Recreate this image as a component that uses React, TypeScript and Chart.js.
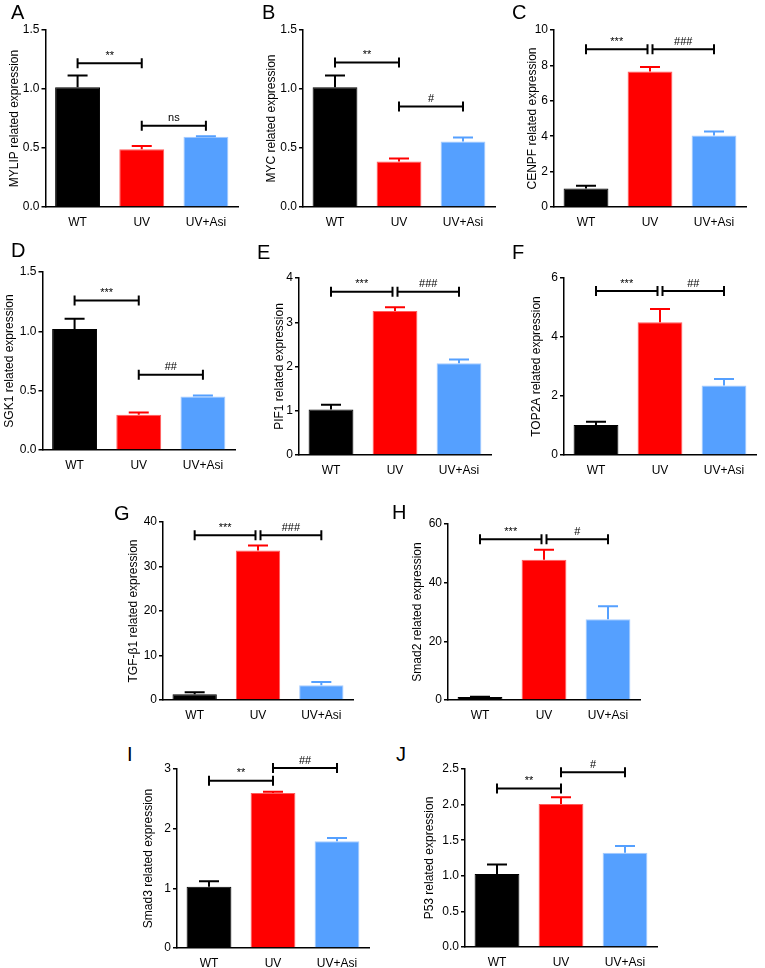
import React, { useEffect, useRef } from 'react';
import { Chart, registerables } from 'chart.js';

Chart.register(...registerables);

// ---------- data ----------
const categories = ['WT', 'UV', 'UV+Asi'];
const barColors = ['#000000', '#ff0000', '#55a0ff'];
const barEdges = ['#000000', '#ff5c5c', '#a6ccff'];

// A: MYLIP
const mylipMean = [1.015, 0.49, 0.595];
const mylipSem = [0.1, 0.027, 0.005];
const mylipSig = [[0, 1, 1.218, '**'], [1, 2, 0.688, 'ns']];
// B: MYC
const mycMean = [1.015, 0.386, 0.555];
const mycSem = [0.1, 0.025, 0.035];
const mycSig = [[0, 1, 1.224, '**'], [1, 2, 0.851, '#']];
// C: CENPF
const cenpfMean = [1.05, 7.65, 4.04];
const cenpfSem = [0.15, 0.26, 0.23];
const cenpfSig = [[0, 1, 8.91, '***'], [1, 2, 8.91, '###']];
// D: SGK1
const sgk1Mean = [1.02, 0.296, 0.451];
const sgk1Sem = [0.087, 0.02, 0.009];
const sgk1Sig = [[0, 1, 1.26, '***'], [1, 2, 0.634, '##']];
// E: PIF1
const pif1Mean = [1.03, 3.256, 2.075];
const pif1Sem = [0.105, 0.085, 0.085];
const pif1Sig = [[0, 1, 3.69, '***'], [1, 2, 3.69, '###']];
// F: TOP2A
const top2aMean = [1.02, 4.5, 2.36];
const top2aSem = [0.11, 0.45, 0.22];
const top2aSig = [[0, 1, 5.56, '***'], [1, 2, 5.56, '##']];
// G: TGF-β1
const tgfMean = [1.27, 33.6, 3.3];
const tgfSem = [0.45, 1.1, 0.75];
const tgfSig = [[0, 1, 37.0, '***'], [1, 2, 37.0, '###']];
// H: Smad2
const smad2Mean = [1.0, 47.8, 27.5];
const smad2Sem = [0.1, 3.45, 4.5];
const smad2Sig = [[0, 1, 54.8, '***'], [1, 2, 54.8, '#']];
// I: Smad3
const smad3Mean = [1.026, 2.597, 1.79];
const smad3Sem = [0.094, 0.023, 0.055];
const smad3Sig = [[0, 1, 2.804, '**'], [1, 2, 3.017, '##']];
// J: P53
const p53Mean = [1.026, 2.01, 1.323];
const p53Sem = [0.134, 0.094, 0.097];
const p53Sig = [[0, 1, 2.227, '**'], [1, 2, 2.453, '#']];

// ---------- layout ----------
const FONT = "'Liberation Sans', Arial, Helvetica, sans-serif";
const PT = 20;
const PR = 5;
const XH = 25;

type PanelDef = {
  letter: string; lx: number; ly: number;
  title: string; mean: number[]; sem: number[]; sig: any[];
  max: number; step: number; dec: number;
  axisX: number; right: number; top: number; bottom: number; titleX: number;
};

const panels: PanelDef[] = [
  { letter: 'A', lx: 12, ly: 5, title: 'MYLIP related expression', mean: mylipMean, sem: mylipSem, sig: mylipSig, max: 1.5, step: 0.5, dec: 1, axisX: 45, right: 237, top: 30, bottom: 207, titleX: 14.5 },
  { letter: 'B', lx: 263, ly: 5, title: 'MYC related expression', mean: mycMean, sem: mycSem, sig: mycSig, max: 1.5, step: 0.5, dec: 1, axisX: 303, right: 495, top: 30, bottom: 207, titleX: 272 },
  { letter: 'C', lx: 513, ly: 5, title: 'CENPF related expression', mean: cenpfMean, sem: cenpfSem, sig: cenpfSig, max: 10, step: 2, dec: 0, axisX: 554, right: 746, top: 30, bottom: 207, titleX: 533 },
  { letter: 'D', lx: 12, ly: 243, title: 'SGK1 related expression', mean: sgk1Mean, sem: sgk1Sem, sig: sgk1Sig, max: 1.5, step: 0.5, dec: 1, axisX: 42, right: 234, top: 272, bottom: 450, titleX: 9.5 },
  { letter: 'E', lx: 258, ly: 245, title: 'PIF1 related expression', mean: pif1Mean, sem: pif1Sem, sig: pif1Sig, max: 4, step: 1, dec: 0, axisX: 299, right: 491, top: 278, bottom: 455, titleX: 280 },
  { letter: 'F', lx: 513, ly: 245, title: 'TOP2A related expression', mean: top2aMean, sem: top2aSem, sig: top2aSig, max: 6, step: 2, dec: 0, axisX: 564, right: 756, top: 278, bottom: 455, titleX: 537 },
  { letter: 'G', lx: 115, ly: 506, title: 'TGF-β1 related expression', mean: tgfMean, sem: tgfSem, sig: tgfSig, max: 40, step: 10, dec: 0, axisX: 163, right: 353, top: 522, bottom: 700, titleX: 134 },
  { letter: 'H', lx: 393, ly: 505, title: 'Smad2 related expression', mean: smad2Mean, sem: smad2Sem, sig: smad2Sig, max: 60, step: 20, dec: 0, axisX: 448, right: 640, top: 524, bottom: 700, titleX: 418 },
  { letter: 'I', lx: 128, ly: 747, title: 'Smad3 related expression', mean: smad3Mean, sem: smad3Sem, sig: smad3Sig, max: 3, step: 1, dec: 0, axisX: 177, right: 369, top: 769, bottom: 948, titleX: 149 },
  { letter: 'J', lx: 397, ly: 747, title: 'P53 related expression', mean: p53Mean, sem: p53Sem, sig: p53Sig, max: 2.5, step: 0.5, dec: 1, axisX: 465, right: 657, top: 769, bottom: 947, titleX: 430 },
];

const annotPlugin = {
  id: 'annot',
  afterDatasetsDraw(chart: any, _args: any, opts: any) {
    const { ctx } = chart;
    const xs = chart.scales.x;
    const ys = chart.scales.y;
    const meta = chart.getDatasetMeta(0);
    const data = chart.data.datasets[0].data as number[];
    const sem: number[] = opts.sem;
    const sig: any[] = opts.sig;
    ctx.save();
    // error bars (upper only)
    meta.data.forEach((bar: any, i: number) => {
      const v = data[i];
      const yTop = ys.getPixelForValue(v + sem[i]);
      const yBar = ys.getPixelForValue(v);
      ctx.strokeStyle = barColors[i];
      ctx.lineWidth = 2;
      ctx.beginPath();
      ctx.moveTo(bar.x, yBar);
      ctx.lineTo(bar.x, yTop);
      ctx.moveTo(bar.x - 10, yTop);
      ctx.lineTo(bar.x + 10, yTop);
      ctx.stroke();
    });
    // significance brackets
    sig.forEach((br: any) => {
      const [a, b, val, label] = br;
      let xa = xs.getPixelForValue(a);
      let xb = xs.getPixelForValue(b);
      sig.forEach((o: any) => {
        if (o === br || o[2] !== val) return;
        if (o[0] === b) xb -= 2.5;
        if (o[1] === a) xa += 2.5;
      });
      const y = ys.getPixelForValue(val);
      ctx.strokeStyle = '#000';
      ctx.lineWidth = 2;
      ctx.beginPath();
      ctx.moveTo(xa, y);
      ctx.lineTo(xb, y);
      ctx.moveTo(xa, y - 5);
      ctx.lineTo(xa, y + 5);
      ctx.moveTo(xb, y - 5);
      ctx.lineTo(xb, y + 5);
      ctx.stroke();
      ctx.fillStyle = '#000';
      ctx.font = `11px ${FONT}`;
      ctx.textAlign = 'center';
      ctx.textBaseline = 'bottom';
      ctx.fillText(label, (xa + xb) / 2, y - 2);
    });
    ctx.restore();
  },
};

function Panel({ p }: { p: PanelDef }) {
  const ref = useRef<HTMLCanvasElement>(null);
  const canvasLeft = p.titleX - 8;
  const yw = p.axisX - canvasLeft;
  const width = Math.round(yw + (p.right - p.axisX) + PR);
  const height = Math.round(PT + (p.bottom - p.top) + XH);

  useEffect(() => {
    if (!ref.current) return;
    const chart = new Chart(ref.current, {
      type: 'bar',
      data: {
        labels: categories,
        datasets: [
          {
            data: p.mean,
            backgroundColor: barColors,
            borderColor: barEdges,
            borderWidth: 1,
            barPercentage: 0.7,
            categoryPercentage: 1.0,
          },
        ],
      },
      plugins: [annotPlugin as any],
      options: {
        responsive: false,
        animation: false,
        devicePixelRatio: 1,
        layout: { padding: { top: PT, right: PR, left: 0, bottom: 0 } },
        plugins: {
          legend: { display: false },
          tooltip: { enabled: false },
          annot: { sem: p.sem, sig: p.sig },
        } as any,
        scales: {
          x: {
            offset: true,
            grid: { display: false, drawTicks: false },
            border: { display: true, color: '#000', width: 1.5 },
            ticks: {
              color: '#000',
              font: { family: FONT, size: 12 },
              padding: 8,
              maxRotation: 0,
              minRotation: 0,
              autoSkip: false,
            },
            afterFit: (s: any) => { s.height = XH; },
          },
          y: {
            min: 0,
            max: p.max,
            grid: { display: true, drawOnChartArea: false, drawTicks: true, tickLength: 4, color: '#000', lineWidth: 1.5 },
            border: { display: true, color: '#000', width: 1.5 },
            ticks: {
              stepSize: p.step,
              color: '#000',
              font: { family: FONT, size: 12 },
              padding: 2,
              callback: (v: any) => Number(v).toFixed(p.dec),
            },
            title: {
              display: true,
              text: p.title,
              color: '#000',
              font: { family: FONT, size: 12 },
              padding: { top: 0.8, bottom: 0 },
            },
            afterFit: (s: any) => { s.width = yw; },
          },
        },
      } as any,
    });
    return () => chart.destroy();
  }, []);

  return (
    <>
      <canvas
        ref={ref}
        width={width}
        height={height}
        style={{ position: 'absolute', left: canvasLeft, top: p.top - PT, width, height }}
      />
      <div
        style={{
          position: 'absolute',
          left: p.lx - 1,
          top: p.ly - 2.6,
          fontFamily: FONT,
          fontSize: 20,
          lineHeight: '20px',
          color: '#000',
        }}
      >
        {p.letter}
      </div>
    </>
  );
}

export default function App() {
  return (
    <div style={{ position: 'absolute', left: 0, top: 0, width: 765, height: 968, background: '#fff', overflow: 'hidden' }}>
      {panels.map((p) => (
        <Panel key={p.letter} p={p} />
      ))}
    </div>
  );
}
